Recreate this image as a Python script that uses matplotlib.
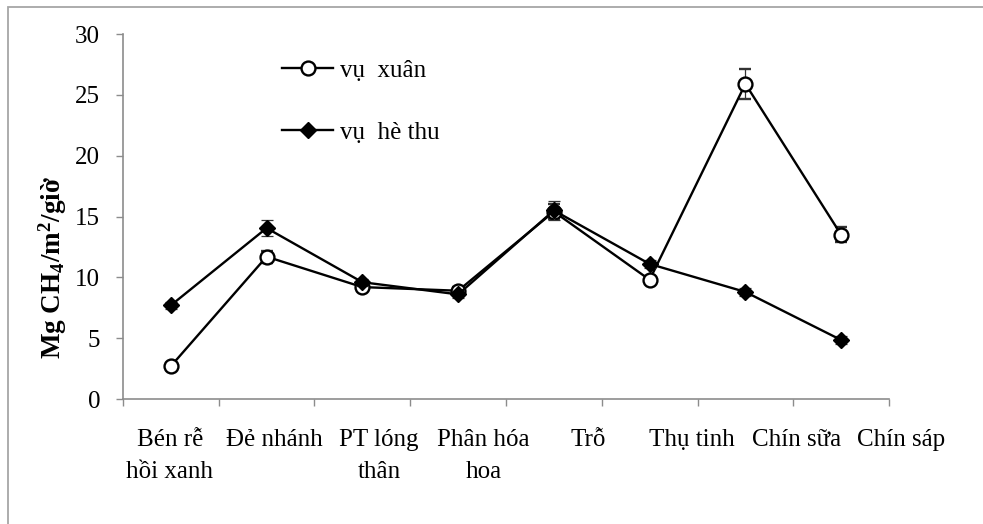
import numpy as np
import matplotlib
matplotlib.use("Agg")
import matplotlib.pyplot as plt
from matplotlib.patches import Rectangle
from matplotlib.lines import Line2D

# Phát thải CH4 theo giai đoạn sinh trưởng của lúa
giai_doan = ["Bén rễ\nhồi xanh", "Đẻ nhánh", "PT lóng\nthân", "Phân hóa\nhoa",
             "Trỗ", "Thụ tinh", "Chín sữa", "Chín sáp"]
vu_xuan = [2.7, 11.7, 9.2, 8.9, 15.4, 9.8, 25.9, 13.5]
vu_xuan_sai_so = [0.3, 0.5, 0.3, 0.3, 0.6, 0.3, 1.25, 0.6]
vu_he_thu = [7.7, 14.05, 9.6, 8.6, 15.5, 11.1, 8.8, 4.85]
vu_he_thu_sai_so = [0.3, 0.65, 0.3, 0.3, 0.75, 0.3, 0.3, 0.3]
y_ticks = [0, 5, 10, 15, 20, 25, 30]

plt.rcParams["font.family"] = ["Liberation Serif", "DejaVu Serif"]
plt.rcParams["mathtext.fontset"] = "custom"
plt.rcParams["mathtext.rm"] = "Liberation Serif:bold"
plt.rcParams["mathtext.bf"] = "Liberation Serif:bold"
plt.rcParams["mathtext.default"] = "bf"

GRAY = "#8c8c8c"
FS = 18

fig = plt.figure(figsize=(9.83, 5.24), dpi=100)
ax = fig.add_axes([0.1251, 0.2385, 0.7793, 0.6966])

# khung viền ngoài
fig.patches.append(Rectangle((0.008, -0.1), 1.1, 0.1 + 0.9866, transform=fig.transFigure,
                             fill=False, edgecolor="#a6a6a6", linewidth=1.3))

x = np.arange(len(giai_doan))
ax.errorbar(x, vu_xuan, yerr=vu_xuan_sai_so, color="black", lw=1.7,
            marker="o", ms=10, mfc="white", mec="black", mew=1.7,
            ecolor="#333333", elinewidth=0.9, capsize=4.5, capthick=0.9, zorder=3)
ax.errorbar(x, vu_he_thu, yerr=vu_he_thu_sai_so, color="black", lw=1.7,
            marker="D", ms=8, mfc="black", mec="black",
            ecolor="#333333", elinewidth=0.9, capsize=4.5, capthick=0.9, zorder=4)

ax.set_xlim(-0.5, len(giai_doan) - 0.5)
ax.set_ylim(0, 30)
ax.set_yticks(y_ticks)
ax.set_xticks(np.arange(-0.5, len(giai_doan), 1))
ax.set_xticklabels([])
ax.tick_params(axis="y", labelsize=FS, length=5, color=GRAY, width=1, pad=11.5)
ax.tick_params(axis="x", length=5, color=GRAY, width=1)
for s in ["top", "right"]:
    ax.spines[s].set_visible(False)
for s in ["left", "bottom"]:
    ax.spines[s].set_color(GRAY)
    ax.spines[s].set_linewidth(1.2)

# nhãn giai đoạn: mỗi dòng đặt theo baseline riêng
buoc_nhan = 1.091
buoc_dong = 0.0877
trans = ax.get_xaxis_transform()
for i, ten in enumerate(giai_doan):
    for j, dong in enumerate(ten.split("\n")):
        ax.text(-0.01 + i * buoc_nhan, -0.1288 - j * buoc_dong, dong, transform=trans,
                ha="center", va="baseline", fontsize=FS, clip_on=False)

ax.set_ylabel(r"Mg CH$_4$/m$^2$/giờ", fontsize=19.5, fontweight="bold")
ax.yaxis.set_label_coords(-0.071, 0.36)

handles = [
    Line2D([], [], color="black", lw=1.7, marker="o", ms=10, mfc="white", mec="black", mew=1.7),
    Line2D([], [], color="black", lw=1.7, marker="D", ms=8, mfc="black", mec="black"),
]
ax.legend(handles, ["vụ  xuân", "vụ  hè thu"], loc="upper left",
          bbox_to_anchor=(0.287, 0.886), bbox_transform=fig.transFigure,
          frameon=False, fontsize=FS, handlelength=2.05, handletextpad=0.25,
          labelspacing=1.58, borderpad=0, borderaxespad=0)

fig.savefig("out.png", dpi=100)
